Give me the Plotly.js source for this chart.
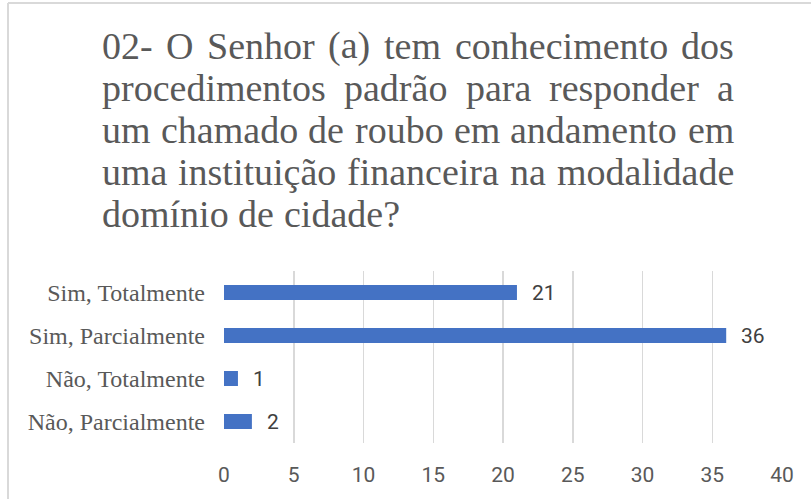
<!DOCTYPE html>
<html>
<head>
<meta charset="utf-8">
<script src="https://cdn.plot.ly/plotly-3.0.1.min.js"></script>
<style>
  html, body { margin: 0; padding: 0; background: #ffffff; }
  #chart { width: 811px; height: 499px; }
</style>
</head>
<body>
<div id="chart"></div>
<script>
// ---- data ----
const categories = ["Sim, Totalmente", "Sim, Parcialmente", "Não, Totalmente", "Não, Parcialmente"];
const values = [21, 36, 1, 2];
const xTicks = [0, 5, 10, 15, 20, 25, 30, 35, 40];
const titleLines = [
  "02- O Senhor (a) tem conhecimento dos",
  "procedimentos padrão para responder a",
  "um chamado de roubo em andamento em",
  "uma instituição financeira na modalidade",
  "domínio de cidade?"
];

// ---- layout geometry ----
const W = 811, H = 499;
const M = { l: 224, r: 29, t: 271, b: 56 };
const PW = W - M.l - M.r, PH = H - M.t - M.b;
const px2x = px => (px - M.l) / PW;
const py2y = py => (H - M.b - py) / PH;

const TITLE_FONT = "'Liberation Serif', 'Times New Roman', serif";
const TITLE_SIZE = 38;
const TITLE_LEFT = 100, TITLE_RIGHT = 732;
const TITLE_FIRST_CENTER = 46, TITLE_STEP = 42;
const GREY = "#595959";

// measure words for justified title
const cv = document.createElement("canvas").getContext("2d");
cv.font = TITLE_SIZE + "px 'Liberation Serif'";

const annotations = [];
titleLines.forEach((line, li) => {
  const words = line.split(" ");
  const widths = words.map(w => cv.measureText(w).width);
  const sum = widths.reduce((a, b) => a + b, 0);
  const last = li === titleLines.length - 1;
  const gap = last ? cv.measureText(" ").width : (TITLE_RIGHT - TITLE_LEFT - sum) / (words.length - 1);
  let x = TITLE_LEFT;
  const cy = TITLE_FIRST_CENTER + li * TITLE_STEP;
  words.forEach((w, wi) => {
    annotations.push({
      xref: "paper", yref: "paper",
      x: px2x(x), y: py2y(cy),
      xanchor: "left", yanchor: "middle",
      text: w, showarrow: false,
      font: { family: TITLE_FONT, size: TITLE_SIZE, color: GREY }
    });
    x += widths[wi] + gap;
  });
});

// data labels
categories.forEach((c, i) => {
  annotations.push({
    x: values[i], y: c, xref: "x", yref: "y",
    text: String(values[i]), showarrow: false,
    xanchor: "left", yanchor: "middle", xshift: 13,
    font: { family: "Roboto, sans-serif", size: 21, color: "#404040" }
  });
});

const trace = {
  type: "bar",
  orientation: "h",
  y: categories,
  x: values,
  marker: { color: "#4472C4", line: { width: 0 } },
  hoverinfo: "skip"
};

const layout = {
  width: W, height: H,
  margin: M,
  paper_bgcolor: "#ffffff",
  plot_bgcolor: "#ffffff",
  showlegend: false,
  bargap: 0.65,
  xaxis: {
    range: [0, 40],
    tickmode: "array",
    tickvals: xTicks,
    ticktext: xTicks.map(String),
    showgrid: true, gridcolor: "#d9d9d9", gridwidth: 1.5,
    zeroline: false, showline: false, ticks: "",
    tickfont: { family: "Roboto, sans-serif", size: 21, color: GREY },
    ticklabelstandoff: 17,
    fixedrange: true
  },
  yaxis: {
    type: "category",
    autorange: "reversed",
    showgrid: false, zeroline: false, showline: false, ticks: "",
    tickfont: { family: TITLE_FONT, size: 24, color: GREY },
    ticklabelstandoff: 18,
    fixedrange: true
  },
  shapes: [
    { type: "line", xref: "paper", yref: "paper", x0: px2x(8), x1: px2x(8), y0: py2y(3), y1: py2y(H + 2), line: { color: "#d9d9d9", width: 2 } },
    { type: "line", xref: "paper", yref: "paper", x0: px2x(8), x1: px2x(W + 2), y0: py2y(3), y1: py2y(3), line: { color: "#d9d9d9", width: 2 } }
  ],
  annotations: annotations
};

Plotly.newPlot("chart", [trace], layout, { displayModeBar: false, staticPlot: true });
</script>
</body>
</html>
